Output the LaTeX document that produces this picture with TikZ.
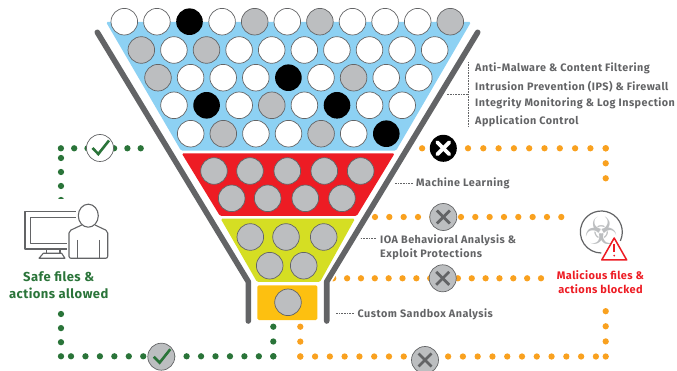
\documentclass[tikz,border=0pt]{standalone}
\usepackage{fontspec}
\setmainfont{Fira Sans}
\newfontfamily\tagfont{Fira Sans}[LetterSpace=4.5]
\newfontfamily\verdictfont{Fira Sans}[LetterSpace=3.5]
\definecolor{funnelgrey}{HTML}{636466}
\definecolor{ballgrey}{HTML}{BCBEC0}
\definecolor{layerblue}{HTML}{8DD1F3}
\definecolor{layerred}{HTML}{ED1C24}
\definecolor{layerlime}{HTML}{D5DE23}
\definecolor{layeramber}{HTML}{FDC010}
\definecolor{safegreen}{HTML}{2A7439}
\definecolor{dotamber}{HTML}{F9A11F}
\tikzset{
    wball/.style={draw=funnelgrey,line width=0.7pt,fill=white},
    gball/.style={draw=funnelgrey,line width=0.7pt,fill=ballgrey},
    kball/.style={fill=black},
    funnelwall/.style={draw=funnelgrey,line width=5.6pt,line cap=round,line join=round},
    wallgap/.style={draw=white,line width=9pt},
    layer/.style={rounded corners=1.5pt},
    greendots/.style={draw=safegreen,line width=6.3pt,line cap=round,dash pattern=on 0pt off 14.4pt},
    amberdots/.style={draw=dotamber,line width=6.3pt,line cap=round,dash pattern=on 0pt off 14.7pt},
    leader/.style={draw=funnelgrey,line width=0.6pt,densely dotted},
    tag/.style={anchor=west,text=funnelgrey,font=\tagfont\fontsize{10.8}{11}\selectfont\bfseries,inner sep=0pt},
    verdict/.style={align=center,inner sep=0pt},
    badge/.style={circle,minimum size=27pt,inner sep=0pt,draw=funnelgrey,line width=0.7pt},
    crossbadge/.style={badge,fill=ballgrey,path picture={
        \draw[funnelgrey,line width=2.8pt] ([shift={(-6.5,-6.5)}]path picture bounding box.center) -- ([shift={(6.5,6.5)}]path picture bounding box.center);
        \draw[funnelgrey,line width=2.8pt] ([shift={(-6.5,6.5)}]path picture bounding box.center) -- ([shift={(6.5,-6.5)}]path picture bounding box.center);}},
    stopbadge/.style={circle,minimum size=27pt,inner sep=0pt,fill=black,path picture={
        \draw[white,line width=3.8pt,line cap=round] ([shift={(-6,-6)}]path picture bounding box.center) -- ([shift={(6,6)}]path picture bounding box.center);
        \draw[white,line width=3.8pt,line cap=round] ([shift={(-6,6)}]path picture bounding box.center) -- ([shift={(6,-6)}]path picture bounding box.center);}},
    tickbadge/.style={badge,path picture={
        \draw[safegreen,line width=2.6pt] ([shift={(-7.5,0)}]path picture bounding box.center) -- ([shift={(-1.7,6)}]path picture bounding box.center) -- ([shift={(9,-7.5)}]path picture bounding box.center);}},
    icon/.style={draw=funnelgrey,line width=1.1pt,line join=round},
}
\begin{document}
\begin{tikzpicture}[x=1pt,y=-1pt]
    \useasboundingbox (0,0) rectangle (677,371);
    % safe route
    \coordinate (safeTopEnd) at (140.7,148.3);
    \coordinate (safeTopCorner) at (60.5,148.3);
    \coordinate (safeTopDrop) at (61,200);
    \coordinate (safeTopFirst) at (61,155);
    \coordinate (safeLowRise) at (61,314);
    \coordinate (safeLowCorner) at (61,357);
    \coordinate (safeLowFirst) at (70,356.3);
    \coordinate (safeOutCorner) at (273.3,356.3);
    \coordinate (safeOutTop) at (273.3,326.7);
    \draw[greendots,dash pattern=on 0pt off 13.3pt] (safeTopEnd) -- (safeTopCorner);
    \draw[greendots,dash pattern=on 0pt off 14pt] (safeTopDrop) -- (safeTopFirst);
    \draw[greendots,dash pattern=on 0pt off 14.1pt] (safeLowRise) -- (safeLowCorner);
    \draw[greendots,dash pattern=on 0pt off 14.45pt] (safeOutCorner) -- (safeLowFirst);
    \draw[greendots,dash pattern=on 0pt off 14.8pt] (safeOutCorner) -- (safeOutTop);
    % blocked routes
    \coordinate (blockTopStart) at (411,148.3);
    \coordinate (blockTopCorner) at (605.7,148.3);
    \coordinate (blockTopDrop) at (605.7,192);
    \coordinate (blockMidStart) at (375,217);
    \coordinate (blockMidEnd) at (562,217);
    \coordinate (blockLowStart) at (332,278.3);
    \coordinate (blockLowEnd) at (541,278.3);
    \coordinate (blockOutTop) at (300.3,326.7);
    \coordinate (blockOutCorner) at (300.3,356.5);
    \coordinate (blockOutLast) at (597,356.5);
    \coordinate (blockEndCorner) at (605.7,356.5);
    \coordinate (blockEndRise) at (605.7,311);
    \draw[amberdots,dash pattern=on 0pt off 15.3pt] (blockTopCorner) -- (blockTopStart);
    \draw[amberdots,dash pattern=on 0pt off 15pt] (blockTopCorner) -- (blockTopDrop);
    \draw[amberdots,dash pattern=on 0pt off 14.33pt] (blockMidStart) -- (blockMidEnd);
    \draw[amberdots,dash pattern=on 0pt off 13.85pt] (blockLowEnd) -- (blockLowStart);
    \draw[amberdots,dash pattern=on 0pt off 14.9pt] (blockOutTop) -- (blockOutCorner);
    \draw[amberdots,dash pattern=on 0pt off 14.78pt] (blockOutCorner) -- (blockOutLast);
    \draw[amberdots,dash pattern=on 0pt off 15.1pt] (blockEndCorner) -- (blockEndRise);
    % coloured layers
    \fill[layer,layerblue] (106,22) -- (471,22) -- (396,150.7) -- (181,150.7) -- cycle;
    \fill[layer,layerred] (181.7,153.3) -- (394.7,153.3) -- (356.7,216) -- (220,216) -- cycle;
    \fill[layer,layerlime] (220.7,218.7) -- (355,218.7) -- (320,282) -- (257,282) -- cycle;
    \fill[layer,layeramber] (257.3,285.3) rectangle (317.3,320);
    % funnel walls
    \draw[wallgap] (97.3,32.3) -- (248.3,281.7) -- (248.3,321);
    \draw[wallgap] (477.7,32.3) -- (326.7,281.7) -- (326.7,321);
    \draw[funnelwall] (97.3,32.3) -- (248.3,281.7) -- (248.3,321);
    \draw[funnelwall] (477.7,32.3) -- (326.7,281.7) -- (326.7,321);
    % balls in the blue layer
    \foreach \b [count=\i from 0] in {wball,wball,kball,wball,gball,wball,gball,wball,wball,wball,gball}
        \path[\b] ({124.3+32.6*\i},21.7) circle (13.3);
    \foreach \b [count=\i from 0] in {gball,wball,gball,wball,wball,wball,wball,wball,wball,wball}
        \path[\b] ({141.3+32.6*\i},50) circle (13.3);
    \foreach \b [count=\i from 0] in {gball,wball,wball,wball,kball,wball,gball,wball,wball}
        \path[\b] ({158+32.6*\i},77.7) circle (13.3);
    \foreach \b [count=\i from 0] in {wball,kball,wball,gball,wball,kball,wball,wball}
        \path[\b] ({174+32.6*\i},105.3) circle (13.3);
    \foreach \b [count=\i from 0] in {wball,gball,wball,wball,gball,wball,kball}
        \path[\b] ({190.7+32.6*\i},133.7) circle (13.3);
    % balls in the other layers
    \foreach \x in {214,250,287.3,324.3,360.7}
        \path[gball] (\x,171) circle (13.3);
    \foreach \x in {231.7,267.7,305.3,342}
        \path[gball] (\x,198.3) circle (13.3);
    \foreach \x in {250.3,286,323.7}
        \path[gball] (\x,237) circle (13.3);
    \foreach \x in {269.7,303.7}
        \path[gball] (\x,265.7) circle (13.3);
    \path[gball] (288,302.3) circle (13.3);
    % badges on the routes
    \node[tickbadge,fill=white] (safeTop) at (100,148) {};
    \node[tickbadge,fill=ballgrey] (safeLow) at (161.3,356.7) {};
    \node[stopbadge] (stopTop) at (443.3,148.3) {};
    \node[crossbadge] (stopMid) at (443.3,217) {};
    \node[crossbadge] (stopLow) at (442.7,278.3) {};
    \node[crossbadge] (stopOut) at (425,360) {};
    % user at the screen
    \fill[white] (20,199.5) rectangle (115,262);
    \draw[icon] (75.7,211.7) -- (25,211.7) -- (25,249) -- (66.7,249);
    \draw[icon] (75.7,217.7) -- (30.7,217.7) -- (30.7,243.3) -- (66.7,243.3);
    \draw[icon] (46.7,249) -- (46.7,253.3) (60,249) -- (60,253.3);
    \draw[icon] (43.3,253.3) -- (61.7,253.3) -- (65,258.3) -- (39,258.3) -- cycle;
    \draw[icon] (88.3,215.7) ellipse (10 and 11.5);
    \draw[icon,rounded corners=2pt] (81.7,225) -- (69,231) -- (69,258.3) -- (107.7,258.3) -- (107.7,231) -- (95,225);
    \draw[icon] (77.3,240) -- (77.3,258.3) (99.3,240) -- (99.3,258.3);
    % biohazard
    \coordinate (hazardMid) at (601.3,232);
    \draw[funnelgrey,line width=1.2pt] ([shift={(25:21)}]hazardMid) arc (25:-270:21);
    \node[inner sep=0pt,text=ballgrey,font=\fontspec{DejaVu Sans}\fontsize{38}{38}\selectfont] (hazard) at (601.7,231) {☣};
    \draw[layerred,line width=1.5pt,line join=round,fill=white] (601.7,260) -- (626.7,260) -- (614.2,238) -- cycle;
    \draw[layerred,line width=1.6pt] (614.2,244) -- (614.2,252);
    \fill[layerred] (614.2,255.7) circle (1);
    % labels
    \node[verdict,text=safegreen,font=\verdictfont\fontsize{13}{17.3}\selectfont\bfseries] (safeText) at (58.7,285) {Safe files \&\\actions allowed};
    \node[verdict,text=layerred,font=\verdictfont\fontsize{11}{14}\selectfont\bfseries] (blockText) at (600.5,282) {Malicious files \&\\actions blocked};
    \node[tag] (tagMalware) at (475,68.3) {Anti-Malware \& Content Filtering};
    \node[tag] (tagIps) at (475,86.3) {Intrusion Prevention (IPS) \& Firewall};
    \node[tag] (tagLog) at (475,103.3) {Integrity Monitoring \& Log Inspection};
    \node[tag] (tagApp) at (475,121) {Application Control};
    \node[tag] (tagMl) at (416,183) {Machine Learning};
    \node[tag] (tagIoa) at (380,240) {IOA Behavioral Analysis \&};
    \node[tag] (tagExploit) at (380,254) {Exploit Protections};
    \node[tag] (tagSandbox) at (357.5,314) {Custom Sandbox Analysis};
    % leaders
    \coordinate (braceTop) at (468,62);
    \coordinate (braceLow) at (468,127);
    \coordinate (braceMid) at (468,94.3);
    \coordinate (braceTip) at (446.7,94.3);
    \draw[leader] (braceTop) -- (braceLow);
    \draw[leader] (braceMid) -- (braceTip);
    \coordinate (mlTip) at (394,183);
    \coordinate (mlEnd) at (413,183);
    \draw[leader] (mlEnd) -- (mlTip);
    \coordinate (ioaTip) at (360,238.7);
    \coordinate (ioaEnd) at (376,238.7);
    \draw[leader] (ioaEnd) -- (ioaTip);
    \coordinate (sandTip) at (335,313);
    \coordinate (sandEnd) at (354,313);
    \draw[leader] (sandEnd) -- (sandTip);
\end{tikzpicture}
\end{document}
